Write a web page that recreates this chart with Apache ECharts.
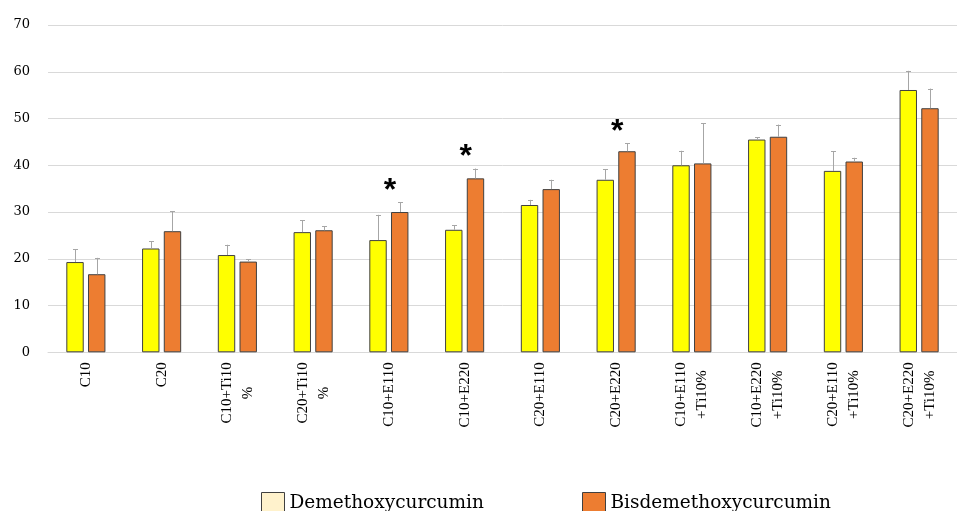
<!DOCTYPE html>
<html>
<head>
<meta charset="utf-8">
<script src="https://cdn.jsdelivr.net/npm/echarts@6/dist/echarts.min.js"></script>
<style>
  html, body { margin: 0; padding: 0; background: #ffffff; }
  #chart { width: 957px; height: 511px; }
</style>
</head>
<body>
<div id="chart"></div>
<script>
// Treatment groups along the x axis
const categories = [
  'C10', 'C20', 'C10+Ti10\n%', 'C20+Ti10\n%', 'C10+E110', 'C10+E220',
  'C20+E110', 'C20+E220', 'C10+E110\n+Ti10%', 'C10+E220\n+Ti10%',
  'C20+E110\n+Ti10%', 'C20+E220\n+Ti10%'
];

// Demethoxycurcumin: means and standard deviations
const demethoxyMean = [19.3, 22.2, 20.8, 25.7, 24.0, 26.2, 31.5, 36.9, 40.0, 45.5, 38.8, 56.1];
const demethoxySd   = [2.7, 1.6, 2.2, 2.5, 5.4, 0.95, 1.1, 2.2, 3.1, 0.5, 4.25, 4.1];

// Bisdemethoxycurcumin: means and standard deviations
const bisdemethoxyMean = [16.7, 25.9, 19.4, 26.1, 30.0, 37.2, 34.9, 43.0, 40.4, 46.1, 40.8, 52.2];
const bisdemethoxySd   = [3.5, 4.25, 0.5, 0.9, 2.1, 2.1, 2.0, 1.7, 8.6, 2.6, 0.8, 4.2];

// Significance markers per group
const significance = ['', '', '', '', '*', '*', '', '*', '', '', '', ''];

// Y axis ticks
const yMin = 0, yMax = 70, yStep = 10;

const BAR_W = 17.4;
const BAR_GAP = 4.3;
const OFFSET = (BAR_W + BAR_GAP) / 2;

const chart = echarts.init(document.getElementById('chart'), null, { renderer: 'canvas' });

function errorItem(offset, meanArr, sdArr) {
  return function (params, api) {
    const i = api.value(0);
    const mean = meanArr[i];
    const top = mean + sdArr[i];
    const p0 = api.coord([i, mean]);
    const p1 = api.coord([i, top]);
    const x = Math.round(p0[0] + offset) + 0.5;
    return {
      type: 'group',
      children: [
        { type: 'line', shape: { x1: x, y1: p0[1], x2: x, y2: p1[1] },
          style: { stroke: '#a6a6a6', lineWidth: 1 } },
        { type: 'line', shape: { x1: x - 2.5, y1: Math.round(p1[1]) + 0.5, x2: x + 2.5, y2: Math.round(p1[1]) + 0.5 },
          style: { stroke: '#a6a6a6', lineWidth: 1 } }
      ]
    };
  };
}

function markItem(params, api) {
  const i = api.value(0);
  if (!significance[i]) return null;
  const top = Math.max(demethoxyMean[i] + demethoxySd[i], bisdemethoxyMean[i] + bisdemethoxySd[i]);
  const p = api.coord([i, top]);
  return {
    type: 'text',
    style: {
      x: p[0] + 1, y: p[1] - 11,
      text: significance[i],
      fill: '#000000',
      font: 'bold 32px "Liberation Sans", Arial, sans-serif',
      align: 'center',
      verticalAlign: 'middle'
    }
  };
}

const idx = categories.map((c, i) => [i]);

const serifTick = '"DejaVu Serif", serif';

chart.setOption({
  backgroundColor: '#ffffff',
  animation: false,
  grid: { left: 48, top: 25, width: 920, height: 327.3, containLabel: false },
  legend: [
    {
      left: 256, top: 487, itemWidth: 23, itemHeight: 22, icon: 'rect',
      data: [{ name: 'Demethoxycurcumin', itemStyle: { color: '#fff2cc', borderColor: '#404040', borderWidth: 1 } }],
      textStyle: { fontFamily: serifTick, fontSize: 18.5, color: '#000000', padding: [0, 0, 0, 0] }
    },
    {
      left: 577, top: 487, itemWidth: 23, itemHeight: 22, icon: 'rect',
      data: [{ name: 'Bisdemethoxycurcumin', itemStyle: { color: '#ed7d31', borderColor: '#404040', borderWidth: 1 } }],
      textStyle: { fontFamily: serifTick, fontSize: 18.5, color: '#000000', padding: [0, 0, 0, 0] }
    }
  ],
  xAxis: {
    type: 'category',
    data: categories,
    axisLine: { show: true, lineStyle: { color: '#d9d9d9', width: 1 } },
    axisTick: { show: false },
    axisLabel: {
      rotate: 90,
      margin: 10,
      interval: 0,
      formatter: v => v.split('\n').map(s => '{c|' + s + '}').join('\n'),
      rich: {
        c: { align: 'center', fontFamily: '"Liberation Serif", serif', fontSize: 15, color: '#000000', lineHeight: 21 }
      }
    }
  },
  yAxis: {
    type: 'value',
    min: yMin, max: yMax, interval: yStep,
    axisLine: { show: false },
    axisTick: { show: false },
    splitLine: { lineStyle: { color: '#d9d9d9', width: 1 } },
    axisLabel: { margin: 18, fontFamily: serifTick, fontSize: 13, color: '#000000' }
  },
  series: [
    {
      name: 'Demethoxycurcumin', type: 'bar', data: demethoxyMean,
      barWidth: BAR_W, barGap: (BAR_GAP / BAR_W * 100) + '%',
      itemStyle: { color: '#ffff00', borderColor: '#404040', borderWidth: 1 }
    },
    {
      name: 'Bisdemethoxycurcumin', type: 'bar', data: bisdemethoxyMean,
      barWidth: BAR_W,
      itemStyle: { color: '#ed7d31', borderColor: '#404040', borderWidth: 1 }
    },
    { type: 'custom', data: idx, renderItem: errorItem(-OFFSET, demethoxyMean, demethoxySd), z: 5, silent: true },
    { type: 'custom', data: idx, renderItem: errorItem(OFFSET, bisdemethoxyMean, bisdemethoxySd), z: 5, silent: true },
    { type: 'custom', data: idx, renderItem: markItem, z: 6, silent: true }
  ]
});
</script>
</body>
</html>
